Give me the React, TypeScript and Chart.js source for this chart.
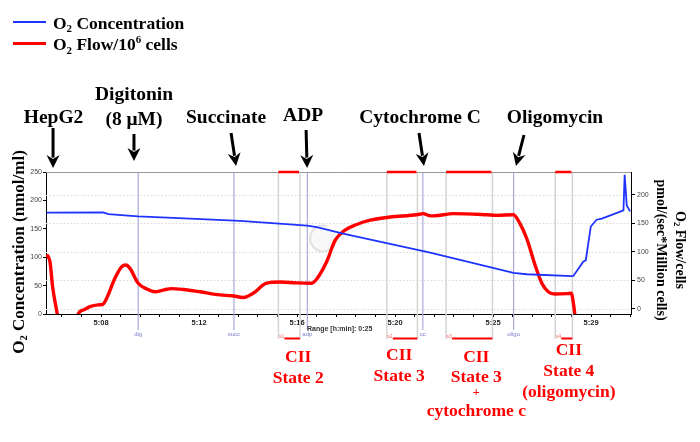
import React, { useEffect, useRef } from "react";
import { Chart, registerables } from "chart.js";
Chart.register(...registerables);

// ---- data (x = minutes after 5:00) ----
const O2_CONC_T = [5.69, 8.10, 8.31, 9.58, 11.78, 13.91, 16.77, 17.17, 18.29, 21.99, 23.70, 25.53, 26.10, 28.02, 28.08, 28.50, 28.61, 28.82, 29.07, 29.29, 30.21, 30.26, 30.35, 30.49];
const O2_CONC = [178.5, 179, 176, 172, 168, 164, 155.5, 153, 141.5, 108, 91, 72.5, 70, 66.7, 67, 92, 94.7, 154, 166, 168, 182.5, 245, 191, 180.7];

const O2_FLOW_T = [5.69, 5.83, 5.94, 6.14, 6.23, 6.94, 7.03, 7.25, 7.53, 7.88, 8.07, 8.24, 8.59, 8.88, 9.06, 9.23, 9.58, 9.94, 10.29, 10.65, 11.0, 11.5, 12.21, 13.06, 13.56, 14.05, 14.47, 15.04, 15.61, 16.32, 16.96, 17.19, 17.59, 17.95, 18.37, 18.87, 19.44, 20.29, 21.42, 21.70, 21.91, 22.13, 22.98, 24.40, 24.82, 25.53, 25.81, 26.10, 26.45, 26.74, 27.01, 27.30, 27.80, 28.00, 28.07, 28.14, 28.20];
const O2_FLOW = [95.5, 82.5, 39, -9, -30, -30, -9, -2, 4, 7, 8, 18.6, 53.5, 74, 77, 71, 45, 35, 30, 33, 35.5, 34, 30, 24.5, 23, 20, 27.4, 45, 47, 45.5, 45, 53.5, 82.5, 120, 138, 148, 155.5, 161, 165, 167, 164, 163, 167, 165, 164, 165, 149.5, 123, 77, 45, 30, 26, 26.7, 27.4, 12.7, -9, -40];

const X_MAJOR_TICKS = [8, 12.167, 16.333, 20.5, 24.667, 28.833];
const X_TICK_LABELS = ["5:08", "5:12", "5:16", "5:20", "5:25", "5:29"];
const Y_LEFT_TICKS = [0, 50, 100, 150, 200, 250];
const Y_RIGHT_TICKS = [0, 50, 100, 150, 200];

const EVENT_NAMES = ["dig", "succ", "adp", "cc", "oligo"];
const EVENT_T = [9.58, 13.65, 16.77, 21.68, 25.54];

const STATE_START_T = [15.54, 20.15, 22.67, 27.31];
const STATE_END_T = [16.46, 21.45, 24.64, 28.04];
const STATE_TAGS = ["s1", "s2", "s3", "s4"];
const STATE_LABELS = [["CII", "State 2"], ["CII", "State 3"], ["CII", "State 3", "+", "cytochrome c"], ["CII", "State 4", "(oligomycin)"]];

const INJECTIONS = [["HepG2"], ["Digitonin", "(8 \u03bcM)"], ["Succinate"], ["ADP"], ["Cytochrome C"], ["Oligomycin"]];
const INJECTION_T = [5.96, 9.4, 13.74, 16.76, 21.73, 25.64];

const SERIES_NAMES = ["O{_2} Concentration", "O{_2} Flow/10{^6} cells"];
const LEFT_TITLE = "O{_2} Concentration (nmol/ml)";
const RIGHT_TITLE = ["O{_2} Flow/cells", "pmol/(sec*Million cells)"];
const RANGE_TEXT = "Range [h:min]: 0:25";

// ---- layout / style ----
const X_MIN = 5.66, X_MAX = 30.53, X_MINOR_STEP = 0.8333;
const BLUE = "#1f33ff";
const RED = "#ff0000";
const SERIF = '"Liberation Serif","Times New Roman",Times,serif';
const SANS = '"Liberation Sans",Arial,Helvetica,sans-serif';

const INJ_TEXT_DX = [0.5, 0, -10, -4, -4, 39];
const INJ_TOP_DX = [0, 0, -5, -1, -5, 8];
const INJ_TEXT_BASE = [[122.5], [99.5, 124.5], [122.5], [120.5], [122.5], [122.5]];
const INJ_ARROW_Y = [[128, 168], [134, 161], [133, 166], [130, 168], [133, 166], [135, 166]];
const STATE_DX = [9, -3, 7, 5];
const STATE_BASE = [[361.5, 382.5], [359.5, 380.5], [361.5, 381.5, 396, 416], [354.5, 375.5, 396.5]];

type Part = { t: string; mode: number };
function parseRich(s: string): Part[] {
  const out: Part[] = [];
  const re = /\{([_^])(.*?)\}/g;
  let last = 0;
  let m: RegExpExecArray | null;
  while ((m = re.exec(s))) {
    if (m.index > last) out.push({ t: s.slice(last, m.index), mode: 0 });
    out.push({ t: m[2], mode: m[1] === "_" ? 1 : 2 });
    last = m.index + m[0].length;
  }
  if (last < s.length) out.push({ t: s.slice(last), mode: 0 });
  return out;
}

function drawRich(ctx: CanvasRenderingContext2D, s: string, x: number, y: number, size: number, color: string, align: "left" | "center") {
  const parts = parseRich(s);
  ctx.save();
  ctx.fillStyle = color;
  ctx.textBaseline = "alphabetic";
  ctx.textAlign = "left";
  const fontFor = (p: Part) => `bold ${p.mode ? size * 0.62 : size}px ${SERIF}`;
  let w = 0;
  const ws = parts.map((p) => {
    ctx.font = fontFor(p);
    const pw = ctx.measureText(p.t).width;
    w += pw;
    return pw;
  });
  let cx = align === "center" ? x - w / 2 : x;
  parts.forEach((p, i) => {
    ctx.font = fontFor(p);
    const dy = p.mode === 1 ? size * 0.2 : p.mode === 2 ? -size * 0.38 : 0;
    ctx.fillText(p.t, cx, y + dy);
    cx += ws[i];
  });
  ctx.restore();
}

function seg(ctx: CanvasRenderingContext2D, x0: number, y0: number, x1: number, y1: number) {
  ctx.beginPath();
  ctx.moveTo(x0, y0);
  ctx.lineTo(x1, y1);
  ctx.stroke();
}

function arrow(ctx: CanvasRenderingContext2D, x0: number, y0: number, x1: number, y1: number) {
  const ang = Math.atan2(y1 - y0, x1 - x0);
  const L = 13, W = 6.5;
  const dx = Math.cos(ang), dy = Math.sin(ang);
  ctx.save();
  ctx.strokeStyle = "#000";
  ctx.fillStyle = "#000";
  ctx.lineWidth = 3;
  seg(ctx, x0, y0, x1 - dx * L * 0.8, y1 - dy * L * 0.8);
  ctx.beginPath();
  ctx.moveTo(x1, y1);
  ctx.lineTo(x1 - dx * L - dy * W, y1 - dy * L + dx * W);
  ctx.lineTo(x1 - dx * L * 0.7, y1 - dy * L * 0.7);
  ctx.lineTo(x1 - dx * L + dy * W, y1 - dy * L - dx * W);
  ctx.closePath();
  ctx.fill();
  ctx.restore();
}

const annotPlugin = {
  id: "annot",
  beforeDatasetsDraw(chart: any) {
    const { ctx, chartArea: a, scales } = chart;
    const xs = scales.x, yR = scales.y1;
    ctx.save();
    // dotted grid
    ctx.strokeStyle = "#d8d8d8";
    ctx.lineWidth = 1;
    ctx.setLineDash([1.5, 2]);
    Y_RIGHT_TICKS.forEach((v) => {
      const py = Math.round(yR.getPixelForValue(v)) + 0.5;
      seg(ctx, a.left, py, a.right, py);
    });
    ctx.setLineDash([]);
    // watermark
    const wx = xs.getPixelForValue(17.44), wy = scales.y.getPixelForValue(133);
    ctx.fillStyle = "rgba(235,235,235,0.35)";
    ctx.beginPath();
    ctx.arc(wx, wy, 13, 0, Math.PI * 2);
    ctx.fill();
    ctx.strokeStyle = "rgba(200,200,200,0.5)";
    ctx.lineWidth = 2;
    ctx.beginPath();
    ctx.arc(wx, wy, 13, 0.2, Math.PI * 1.6);
    ctx.stroke();
    // state marker lines
    ctx.strokeStyle = "#d4d4d4";
    ctx.lineWidth = 1.5;
    STATE_START_T.forEach((s, i) => {
      [s, STATE_END_T[i]].forEach((t) => {
        const px = xs.getPixelForValue(t);
        seg(ctx, px, a.top, px, 339);
      });
    });
    // event lines
    ctx.strokeStyle = "#a9a9e0";
    ctx.lineWidth = 1.2;
    EVENT_T.forEach((t) => {
      const px = xs.getPixelForValue(t);
      seg(ctx, px, a.top, px, 330);
    });
    ctx.restore();
  },
  afterDraw(chart: any) {
    const { ctx, chartArea: a, scales } = chart;
    const xs = scales.x;
    ctx.save();
    // top border
    ctx.strokeStyle = "#9a9a9a";
    ctx.lineWidth = 1;
    seg(ctx, a.left, a.top + 0.5, a.right, a.top + 0.5);
    // state segments
    ctx.strokeStyle = RED;
    STATE_START_T.forEach((s, i) => {
      const p0 = xs.getPixelForValue(s), p1 = xs.getPixelForValue(STATE_END_T[i]);
      ctx.lineWidth = 2.5;
      seg(ctx, p0, a.top, p1 - 1, a.top);
      ctx.lineWidth = 2;
      seg(ctx, p0 + 6, 338.5, p1, 338.5);
      ctx.fillStyle = "rgba(255,60,60,0.8)";
      ctx.font = `5px ${SANS}`;
      ctx.textAlign = "left";
      ctx.textBaseline = "alphabetic";
      ctx.fillText(STATE_TAGS[i], p0 + 0.5, 338);
    });
    // event labels
    ctx.fillStyle = "#7a7ac8";
    ctx.font = `6px ${SANS}`;
    ctx.textAlign = "center";
    EVENT_T.forEach((t, i) => {
      ctx.fillText(EVENT_NAMES[i], xs.getPixelForValue(t), 336);
    });
    // range text
    ctx.fillStyle = "#333";
    ctx.font = `bold 7px ${SANS}`;
    ctx.textAlign = "left";
    ctx.fillText(RANGE_TEXT, 307, 331);
    ctx.restore();

    // injections
    INJECTIONS.forEach((lines, i) => {
      const tip = xs.getPixelForValue(INJECTION_T[i]);
      const [yt, yb] = INJ_ARROW_Y[i];
      arrow(ctx, tip + INJ_TOP_DX[i], yt, tip, yb);
      lines.forEach((ln, j) => drawRich(ctx, ln, tip + INJ_TEXT_DX[i], INJ_TEXT_BASE[i][j], 19.5, "#000", "center"));
    });
    // state labels
    STATE_LABELS.forEach((lines, i) => {
      const cx = (xs.getPixelForValue(STATE_START_T[i]) + xs.getPixelForValue(STATE_END_T[i])) / 2 + STATE_DX[i];
      lines.forEach((ln, j) => drawRich(ctx, ln, cx, STATE_BASE[i][j], ln === "+" ? 12 : 17.5, RED, "center"));
    });
    // axis titles
    ctx.save();
    ctx.translate(18, 252);
    ctx.rotate(-Math.PI / 2);
    drawRich(ctx, LEFT_TITLE, 0, 5.6, 17, "#000", "center");
    ctx.restore();
    [681, 662].forEach((cx, i) => {
      ctx.save();
      ctx.translate(cx, 250);
      ctx.rotate(Math.PI / 2);
      drawRich(ctx, RIGHT_TITLE[i], 0, 4.6, 14, "#000", "center");
      ctx.restore();
    });
    // legend
    const colors = [BLUE, RED];
    const lw = [2, 3];
    const ly = [22, 43.5];
    const tb = [28.5, 50];
    SERIES_NAMES.forEach((name, i) => {
      ctx.save();
      ctx.strokeStyle = colors[i];
      ctx.lineWidth = lw[i];
      seg(ctx, 13, ly[i], 46, ly[i]);
      ctx.restore();
      drawRich(ctx, name, 53, tb[i], 17.5, "#000", "left");
    });
  },
};

export default function App() {
  const ref = useRef<HTMLCanvasElement>(null);
  useEffect(() => {
    const tickFont = { family: SANS, size: 7 };
    const chart = new Chart(ref.current as HTMLCanvasElement, {
      type: "line",
      data: {
        datasets: [
          {
            label: SERIES_NAMES[0],
            data: O2_CONC_T.map((t, i) => ({ x: t, y: O2_CONC[i] })),
            yAxisID: "y",
            borderColor: BLUE,
            backgroundColor: BLUE,
            borderWidth: 1.8,
            pointRadius: 0,
            tension: 0,
          },
          {
            label: SERIES_NAMES[1],
            data: O2_FLOW_T.map((t, i) => ({ x: t, y: O2_FLOW[i] })),
            yAxisID: "y1",
            borderColor: RED,
            backgroundColor: RED,
            borderWidth: 3.4,
            pointRadius: 0,
            cubicInterpolationMode: "monotone",
          },
        ],
      },
      options: {
        animation: false,
        responsive: true,
        maintainAspectRatio: false,
        layout: { padding: { top: 172, left: 0, right: 0, bottom: 0 } },
        plugins: { legend: { display: false }, tooltip: { enabled: false }, title: { display: false } },
        scales: {
          x: {
            type: "linear",
            min: X_MIN,
            max: X_MAX,
            afterBuildTicks: (s: any) => {
              const ticks: any[] = [];
              for (let v = X_MAJOR_TICKS[0] - 4 * X_MINOR_STEP; v <= s.max; v += X_MINOR_STEP) {
                if (v >= s.min) ticks.push({ value: v });
              }
              s.ticks = ticks;
            },
            ticks: {
              autoSkip: false,
              maxRotation: 0,
              padding: 1,
              color: "#222",
              font: { family: SANS, size: 7.5, weight: "bold" },
              callback: (v: any) => {
                const k = X_MAJOR_TICKS.findIndex((m) => Math.abs(m - v) < 0.02);
                return k >= 0 ? X_TICK_LABELS[k] : "";
              },
            },
            grid: { drawOnChartArea: false, drawTicks: true, tickLength: 3, color: "#000" },
            border: { color: "#000", width: 1 },
            afterFit: (s: any) => {
              s.height = 128;
            },
          },
          y: {
            position: "left",
            min: 0,
            max: 250,
            afterBuildTicks: (s: any) => {
              s.ticks = Y_LEFT_TICKS.map((v) => ({ value: v }));
            },
            ticks: { padding: 1, color: "#444", font: tickFont },
            grid: { drawOnChartArea: false, tickLength: 3, color: "#000" },
            border: { color: "#000", width: 1 },
            afterFit: (s: any) => {
              s.width = 46;
            },
          },
          y1: {
            position: "right",
            min: -9,
            max: 240,
            afterBuildTicks: (s: any) => {
              s.ticks = Y_RIGHT_TICKS.map((v) => ({ value: v }));
            },
            ticks: { padding: 2, color: "#444", font: tickFont },
            grid: { drawOnChartArea: false, tickLength: 4, color: "#000" },
            border: { color: "#000", width: 1 },
            afterFit: (s: any) => {
              s.width = 69;
            },
          },
        },
      },
      plugins: [annotPlugin],
    } as any);
    return () => chart.destroy();
  }, []);
  return (
    <div style={{ position: "absolute", left: 0, top: 0, width: 700, height: 442, background: "#fff" }}>
      <canvas ref={ref} />
    </div>
  );
}
